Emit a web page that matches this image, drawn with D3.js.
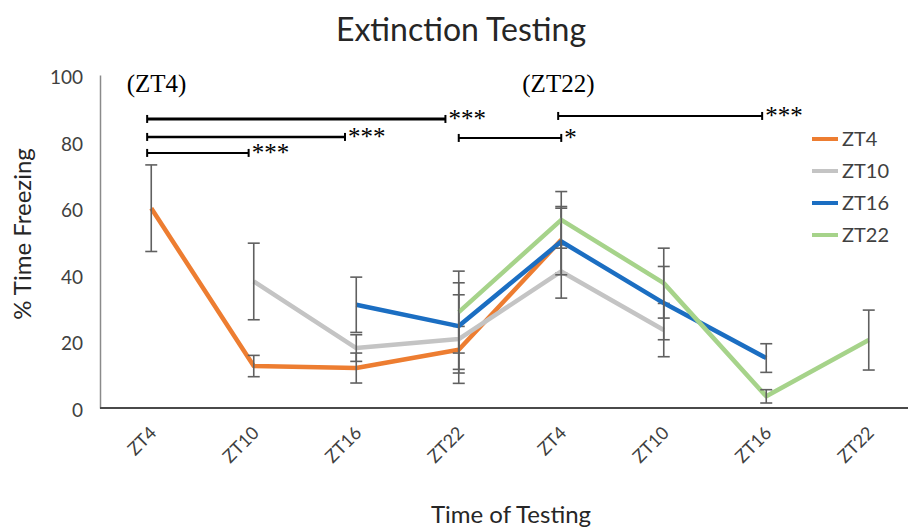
<!DOCTYPE html>
<html>
<head>
<meta charset="utf-8">
<script src="https://cdn.jsdelivr.net/npm/d3@7"></script>
<style>
  body { margin: 0; background: #fff; }
  text { font-family: Lato, "Open Sans", sans-serif; }
</style>
</head>
<body>
<div id="chart"></div>
<script>
// chart size
var width = 908;
var height = 529;

// categories on the x axis (two days of testing)
var categories = ["ZT4", "ZT10", "ZT16", "ZT22", "ZT4", "ZT10", "ZT16", "ZT22"];

// each group: first category index, means and error (+/-)
var seriesNames = ["ZT4", "ZT10", "ZT16", "ZT22"];
var seriesStart = [0, 1, 2, 3];
var zt4Values  = [60, 12.6, 12, 17.5, 50.5];
var zt4Err     = [13, 3.2, 4.5, 7, 10];
var zt10Values = [38, 18, 20.7, 41, 23.4];
var zt10Err    = [11.5, 4, 13.3, 8, 8];
var zt16Values = [31, 24.6, 50, 31.5, 15];
var zt16Err    = [8.3, 13, 10, 11, 4.3];
var zt22Values = [28.8, 56.5, 37.5, 3.5, 20.4];
var zt22Err    = [12.3, 8.5, 10.5, 2, 9];

var yTicks = [0, 20, 40, 60, 80, 100];

// significance brackets: from / to (category index), height (% freezing), label
var sigFrom   = [-0.04, -0.04, -0.04, 3.0, 3.97];
var sigTo     = [2.87, 1.89, 0.95, 4.0, 5.96];
var sigLevel  = [86.8, 81.4, 76.6, 81.1, 87.7];
var sigLabels = ["***", "***", "***", "*", "***"];

// group labels above the brackets
var groupLabels = ["(ZT4)", "(ZT22)"];
var groupLabelPos = [-0.24, 3.62];
var groupLabelLevel = [95, 94.8];

var colors = ["#ED7D31", "#C4C4C4", "#1B6EC2", "#A6D38A"];

var allValues = [zt4Values, zt10Values, zt16Values, zt22Values];
var allErr = [zt4Err, zt10Err, zt16Err, zt22Err];

var series = seriesNames.map(function(name, s) {
  return {
    name: name,
    color: colors[s],
    points: allValues[s].map(function(v, i) {
      return { i: seriesStart[s] + i, value: v, err: allErr[s][i] };
    })
  };
});

var svg = d3.select("#chart").append("svg")
    .attr("width", width)
    .attr("height", height);

// scales
var x = d3.scalePoint()
    .domain(d3.range(categories.length))
    .range([100, 920])
    .padding(0.5);

// fractional category position, for brackets and labels
function xi(i) { return x(0) + i * x.step(); }

var y = d3.scaleLinear()
    .domain([0, 100])
    .range([408, 75]);

// title
svg.append("text")
    .attr("x", 461)
    .attr("y", 41)
    .attr("text-anchor", "middle")
    .style("font-size", "32px")
    .style("fill", "#262626")
    .text("Extinction Testing");

// y axis
var yAxis = svg.append("g")
    .attr("transform", "translate(100,0)")
    .call(d3.axisLeft(y).tickValues(yTicks).tickSize(0).tickPadding(17));
yAxis.select(".domain").attr("stroke", "#8a8a8a").attr("stroke-width", 1.5);
yAxis.selectAll("text")
    .attr("dy", "0.45em")
    .style("font-family", "Lato, sans-serif")
    .style("font-size", "19px")
    .style("fill", "#404040");

// x axis
var xAxis = svg.append("g")
    .attr("transform", "translate(0,408)")
    .call(d3.axisBottom(x).tickSize(0).tickSizeOuter(0)
      .tickFormat(function(i) { return categories[i]; }));
xAxis.select(".domain")
    .attr("d", "M100,0H908")
    .attr("stroke", "#4a4a4a")
    .attr("stroke-width", 2);
xAxis.selectAll("text")
    .attr("x", 0)
    .attr("y", 0)
    .attr("dy", 0)
    .attr("text-anchor", "end")
    .attr("transform", "translate(6,26) rotate(-45)")
    .style("font-family", "Lato, sans-serif")
    .style("font-size", "18px")
    .style("fill", "#404040");

// axis titles
svg.append("text")
    .attr("x", 511)
    .attr("y", 523)
    .attr("text-anchor", "middle")
    .style("font-size", "24px")
    .style("fill", "#262626")
    .text("Time of Testing");

svg.append("text")
    .attr("transform", "translate(31,234) rotate(-90)")
    .attr("text-anchor", "middle")
    .style("font-size", "24px")
    .style("fill", "#262626")
    .text("% Time Freezing");

// lines and error bars
var line = d3.line()
    .x(function(d) { return x(d.i); })
    .y(function(d) { return y(d.value); });

var g = svg.selectAll(".series")
    .data(series)
  .enter().append("g")
    .attr("class", "series");

g.append("path")
    .attr("d", function(d) { return line(d.points); })
    .attr("fill", "none")
    .attr("stroke", function(d) { return d.color; })
    .attr("stroke-width", 4.5)
    .attr("stroke-linejoin", "round");

var eb = g.selectAll(".err")
    .data(function(d) { return d.points; })
  .enter().append("g")
    .attr("class", "err")
    .attr("stroke", "#606060")
    .attr("stroke-width", 1.6);

eb.append("line")
    .attr("x1", function(d) { return x(d.i); })
    .attr("x2", function(d) { return x(d.i); })
    .attr("y1", function(d) { return y(d.value + d.err); })
    .attr("y2", function(d) { return y(d.value - d.err); });
eb.append("line")
    .attr("x1", function(d) { return x(d.i) - 6; })
    .attr("x2", function(d) { return x(d.i) + 6; })
    .attr("y1", function(d) { return y(d.value + d.err); })
    .attr("y2", function(d) { return y(d.value + d.err); });
eb.append("line")
    .attr("x1", function(d) { return x(d.i) - 6; })
    .attr("x2", function(d) { return x(d.i) + 6; })
    .attr("y1", function(d) { return y(d.value - d.err); })
    .attr("y2", function(d) { return y(d.value - d.err); });

// significance brackets
var sig = svg.selectAll(".sig")
    .data(sigLabels)
  .enter().append("g")
    .attr("class", "sig");

sig.append("line")
    .attr("x1", function(d, k) { return xi(sigFrom[k]); })
    .attr("x2", function(d, k) { return xi(sigTo[k]); })
    .attr("y1", function(d, k) { return y(sigLevel[k]); })
    .attr("y2", function(d, k) { return y(sigLevel[k]); })
    .attr("stroke", "#000")
    .attr("stroke-width", function(d, k) { return k === 0 ? 3 : k === 1 ? 2.6 : 2; });
sig.append("line")
    .attr("x1", function(d, k) { return xi(sigFrom[k]); })
    .attr("x2", function(d, k) { return xi(sigFrom[k]); })
    .attr("y1", function(d, k) { return y(sigLevel[k]) - 4; })
    .attr("y2", function(d, k) { return y(sigLevel[k]) + 4; })
    .attr("stroke", "#000")
    .attr("stroke-width", 2);
sig.append("line")
    .attr("x1", function(d, k) { return xi(sigTo[k]); })
    .attr("x2", function(d, k) { return xi(sigTo[k]); })
    .attr("y1", function(d, k) { return y(sigLevel[k]) - 4; })
    .attr("y2", function(d, k) { return y(sigLevel[k]) + 4; })
    .attr("stroke", "#000")
    .attr("stroke-width", 2);
sig.append("text")
    .attr("x", function(d, k) { return xi(sigTo[k]) + 3; })
    .attr("y", function(d, k) { return y(sigLevel[k]) + 8; })
    .style("font-family", "'Liberation Serif', 'Times New Roman', serif")
    .style("font-size", "25px")
    .style("fill", "#000")
    .text(function(d) { return d; });

svg.selectAll(".glabel")
    .data(groupLabels)
  .enter().append("text")
    .attr("class", "glabel")
    .attr("x", function(d, k) { return xi(groupLabelPos[k]); })
    .attr("y", function(d, k) { return y(groupLabelLevel[k]); })
    .style("font-family", "'Liberation Serif', 'Times New Roman', serif")
    .style("font-size", "25px")
    .style("fill", "#000")
    .text(function(d) { return d; });

// legend
var legend = svg.selectAll(".legend")
    .data(series)
  .enter().append("g")
    .attr("class", "legend")
    .attr("transform", function(d, k) { return "translate(812," + (139 + k * 32) + ")"; });

legend.append("line")
    .attr("x1", 0)
    .attr("x2", 26)
    .attr("stroke", function(d) { return d.color; })
    .attr("stroke-width", 4);

legend.append("text")
    .attr("x", 30)
    .attr("dy", "0.35em")
    .style("font-size", "20px")
    .style("fill", "#404040")
    .text(function(d) { return d.name; });
</script>
</body>
</html>
